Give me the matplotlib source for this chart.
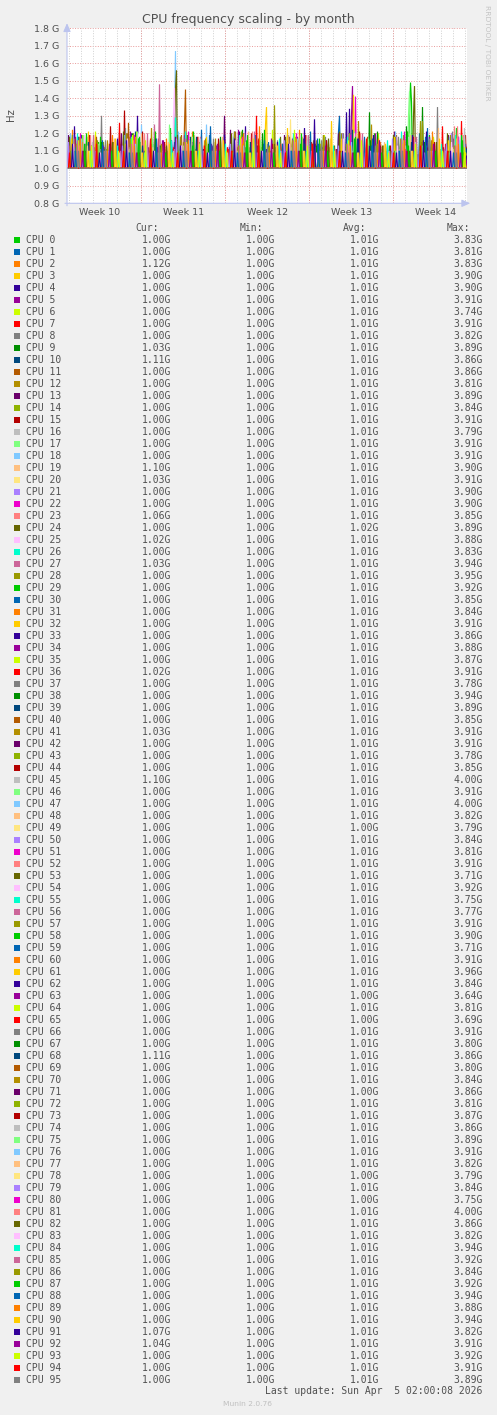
import numpy as np
import matplotlib
matplotlib.use("Agg")
import matplotlib.pyplot as plt
import matplotlib.dates as mdates
from matplotlib.patches import Rectangle
from datetime import datetime, timedelta

W, H = 497, 1415

# ---------------- data ----------------
TITLE = "CPU frequency scaling - by month"
Y_LABEL = "Hz"
LAST_UPDATE = datetime(2026, 4, 5, 2, 0, 8)
N_SAMPLES = 400          # consolidated samples shown on the month graph
STEP_HOURS = 2
BASE_MHZ = 1000          # every CPU rests at its minimum (1.00G) between spikes

y_ticks_ghz = [0.8, 0.9, 1.0, 1.1, 1.2, 1.3, 1.4, 1.5, 1.6, 1.7, 1.8]
y_tick_labels = ["0.8 G", "0.9 G", "1.0 G", "1.1 G", "1.2 G", "1.3 G",
                 "1.4 G", "1.5 G", "1.6 G", "1.7 G", "1.8 G"]
week_labels = ["Week 10", "Week 11", "Week 12", "Week 13", "Week 14"]

cpu_names = ["CPU %d" % i for i in range(96)]

cur_ghz = [1.00, 1.00, 1.12, 1.00, 1.00, 1.00, 1.00, 1.00, 1.00, 1.03, 1.11, 1.00,
           1.00, 1.00, 1.00, 1.00, 1.00, 1.00, 1.00, 1.10, 1.03, 1.00, 1.00, 1.06,
           1.00, 1.02, 1.00, 1.03, 1.00, 1.00, 1.00, 1.00, 1.00, 1.00, 1.00, 1.00,
           1.02, 1.00, 1.00, 1.00, 1.00, 1.03, 1.00, 1.00, 1.00, 1.10, 1.00, 1.00,
           1.00, 1.00, 1.00, 1.00, 1.00, 1.00, 1.00, 1.00, 1.00, 1.00, 1.00, 1.00,
           1.00, 1.00, 1.00, 1.00, 1.00, 1.00, 1.00, 1.00, 1.11, 1.00, 1.00, 1.00,
           1.00, 1.00, 1.00, 1.00, 1.00, 1.00, 1.00, 1.00, 1.00, 1.00, 1.00, 1.00,
           1.00, 1.00, 1.00, 1.00, 1.00, 1.00, 1.00, 1.07, 1.04, 1.00, 1.00, 1.00]
min_ghz = [1.00] * 96
avg_ghz = [1.01, 1.01, 1.01, 1.01, 1.01, 1.01, 1.01, 1.01, 1.01, 1.01, 1.01, 1.01,
           1.01, 1.01, 1.01, 1.01, 1.01, 1.01, 1.01, 1.01, 1.01, 1.01, 1.01, 1.01,
           1.02, 1.01, 1.01, 1.01, 1.01, 1.01, 1.01, 1.01, 1.01, 1.01, 1.01, 1.01,
           1.01, 1.01, 1.01, 1.01, 1.01, 1.01, 1.01, 1.01, 1.01, 1.01, 1.01, 1.01,
           1.01, 1.00, 1.01, 1.01, 1.01, 1.01, 1.01, 1.01, 1.01, 1.01, 1.01, 1.01,
           1.01, 1.01, 1.01, 1.00, 1.01, 1.00, 1.01, 1.01, 1.01, 1.01, 1.01, 1.00,
           1.01, 1.01, 1.01, 1.01, 1.01, 1.01, 1.00, 1.01, 1.00, 1.01, 1.01, 1.01,
           1.01, 1.01, 1.01, 1.01, 1.01, 1.01, 1.01, 1.01, 1.01, 1.01, 1.01, 1.01]
max_ghz = [3.83, 3.81, 3.83, 3.90, 3.90, 3.91, 3.74, 3.91, 3.82, 3.89, 3.86, 3.86,
           3.81, 3.89, 3.84, 3.91, 3.79, 3.91, 3.91, 3.90, 3.91, 3.90, 3.90, 3.85,
           3.89, 3.88, 3.83, 3.94, 3.95, 3.92, 3.85, 3.84, 3.91, 3.86, 3.88, 3.87,
           3.91, 3.78, 3.94, 3.89, 3.85, 3.91, 3.91, 3.78, 3.85, 4.00, 3.91, 4.00,
           3.82, 3.79, 3.84, 3.81, 3.91, 3.71, 3.92, 3.75, 3.77, 3.91, 3.90, 3.71,
           3.91, 3.96, 3.84, 3.64, 3.81, 3.69, 3.91, 3.80, 3.86, 3.80, 3.84, 3.86,
           3.81, 3.87, 3.86, 3.89, 3.91, 3.82, 3.79, 3.84, 3.75, 4.00, 3.86, 3.82,
           3.94, 3.92, 3.84, 3.92, 3.94, 3.88, 3.94, 3.82, 3.91, 3.92, 3.91, 3.89]

# spikes per CPU: (sample index, MHz)
spikes = [
    [(4,1090),(31,1150),(58,1120),(77,1060),(103,1230),(131,1100),(160,1080),(186,1140),(214,1070),(241,1190),(266,1110),(298,1060),(322,1130),(342,1300),(343,1490),(344,1380),(371,1120),(392,1080)],
    [(12,1110),(39,1080),(66,1160),(92,1100),(119,1070),(145,1130),(173,1090),(201,1150),(228,1060),(255,1120),(271,1210),(272,1300),(303,1090),(331,1140),(360,1230),(384,1100)],
    [(5,1220),(26,1100),(53,1140),(81,1070),(108,1120),(137,1160),(164,1090),(192,1240),(219,1110),(247,1080),(276,1150),(309,1100),(337,1070),(366,1170),(389,1120),(399,1120)],
    [(9,1130),(35,1070),(62,1180),(89,1100),(116,1150),(142,1080),(170,1120),(198,1250),(199,1350),(226,1090),(253,1140),(280,1100),(312,1160),(339,1080),(368,1110),(395,1060)],
    [(7,1240),(33,1110),(70,1300),(97,1090),(124,1150),(150,1070),(178,1240),(205,1120),(232,1080),(259,1160),(282,1340),(306,1100),(333,1130),(358,1090),(386,1170)],
    [(15,1080),(42,1140),(68,1100),(95,1160),(122,1070),(149,1130),(176,1110),(203,1090),(230,1180),(257,1100),(284,1300),(285,1470),(315,1120),(342,1080),(369,1150),(396,1100)],
    [(2,1100),(28,1210),(55,1090),(83,1130),(110,1070),(138,1150),(165,1100),(193,1080),(221,1140),(248,1110),(275,1090),(300,1160),(328,1070),(355,1120),(382,1140)],
    [(11,1060),(37,1120),(64,1090),(91,1170),(118,1100),(146,1080),(174,1130),(189,1300),(217,1090),(244,1150),(270,1070),(297,1120),(324,1100),(351,1080),(378,1140),(394,1270)],
    [(34,1300),(50,1100),(76,1080),(104,1140),(130,1090),(157,1120),(183,1070),(210,1160),(237,1100),(264,1080),(291,1130),(319,1090),(346,1150),(373,1110),(398,1080)],
    [(19,1120),(45,1080),(73,1150),(100,1100),(127,1070),(153,1180),(181,1090),(208,1120),(235,1060),(261,1140),(289,1100),(302,1320),(329,1090),(355,1350),(380,1110),(399,1030)],
    [(23,1090),(48,1160),(75,1070),(101,1120),(128,1100),(155,1140),(182,1080),(209,1110),(236,1170),(263,1090),(290,1130),(318,1080),(345,1120),(372,1100),(399,1110)],
    [(16,1100),(61,1260),(86,1120),(117,1250),(118,1450),(143,1090),(171,1130),(197,1080),(225,1150),(252,1100),(278,1070),(305,1140),(332,1090),(359,1110),(387,1080)],
    [(3,1140),(30,1080),(56,1120),(84,1230),(111,1090),(139,1150),(166,1070),(194,1120),(222,1100),(249,1160),(277,1090),(304,1250),(330,1080),(357,1130),(385,1100)],
    [(20,1110),(47,1070),(72,1140),(99,1090),(126,1120),(157,1300),(185,1100),(212,1080),(240,1130),(268,1090),(294,1150),(321,1100),(348,1070),(376,1120)],
    [(8,1090),(36,1150),(63,1080),(90,1120),(115,1100),(144,1070),(172,1160),(199,1090),(227,1110),(254,1080),(281,1140),(308,1100),(336,1170),(363,1090),(390,1120)],
    [(13,1080),(57,1330),(80,1100),(106,1130),(133,1080),(161,1120),(188,1090),(215,1140),(242,1070),(269,1110),(296,1090),(323,1130),(350,1080),(377,1100),(393,1150)],
    [(6,1100),(32,1130),(59,1090),(87,1150),(113,1080),(141,1120),(168,1100),(196,1070),(224,1140),(250,1090),(279,1120),(307,1080),(334,1110),(361,1150),(388,1090)],
    [(18,1110),(44,1080),(71,1120),(102,1250),(129,1090),(154,1140),(180,1100),(207,1080),(234,1150),(260,1100),(287,1090),(313,1130),(341,1300),(342,1440),(368,1100),(391,1080)],
    [(10,1090),(40,1120),(74,1250),(98,1100),(107,1300),(108,1670),(139,1250),(163,1080),(191,1130),(218,1100),(246,1090),(273,1150),(301,1080),(327,1120),(354,1100),(381,1130)],
    [(1,1120),(27,1090),(54,1150),(82,1100),(109,1080),(136,1130),(162,1100),(190,1140),(216,1080),(243,1120),(272,1090),(299,1150),(326,1100),(353,1250),(379,1110),(399,1100)],
    [(14,1100),(41,1140),(67,1090),(94,1120),(121,1080),(147,1150),(175,1100),(202,1090),(223,1280),(251,1110),(276,1080),(302,1130),(330,1100),(356,1090),(383,1120),(399,1030)],
    [(22,1080),(49,1130),(76,1100),(104,1090),(131,1140),(158,1080),(184,1120),(211,1100),(238,1160),(265,1090),(292,1110),(320,1080),(347,1130),(374,1100),(397,1090)],
    [(17,1090),(43,1120),(69,1080),(96,1140),(123,1100),(151,1080),(177,1130),(204,1090),(231,1110),(258,1150),(288,1410),(311,1090),(338,1120),(365,1080),(392,1130)],
    [(4,1080),(29,1130),(57,1100),(85,1150),(112,1090),(140,1110),(167,1080),(195,1120),(223,1100),(250,1140),(278,1090),(305,1110),(333,1080),(360,1120),(387,1240),(399,1060)],
    [(21,1110),(46,1150),(79,1100),(108,1450),(109,1560),(134,1120),(159,1090),(187,1140),(213,1180),(239,1100),(267,1130),(295,1160),(323,1100),(346,1300),(347,1470),(375,1120)],
    [(9,1100),(35,1080),(62,1120),(89,1090),(106,1300),(107,1460),(135,1100),(161,1130),(189,1090),(217,1110),(244,1080),(271,1140),(298,1100),(325,1090),(352,1130),(378,1100),(399,1020)],
    [(3,1090),(30,1120),(58,1080),(86,1140),(108,1290),(132,1100),(160,1080),(186,1120),(214,1090),(240,1130),(268,1080),(293,1110),(321,1100),(349,1140),(376,1090)],
    [(12,1100),(38,1080),(65,1130),(87,1250),(92,1480),(119,1100),(147,1090),(173,1120),(200,1080),(228,1110),(256,1090),(283,1140),(310,1100),(337,1080),(364,1120),(399,1030)],
    [(24,1090),(51,1120),(78,1080),(105,1110),(132,1150),(158,1090),(185,1100),(207,1360),(233,1090),(262,1120),(288,1080),(316,1130),(343,1100),(370,1090),(396,1110)],
    [(6,1120),(33,1180),(60,1100),(88,1210),(114,1090),(142,1160),(169,1080),(197,1220),(224,1100),(252,1170),(279,1130),(307,1200),(334,1080),(362,1190),(389,1230)],
    [(2,1180),(27,1120),(52,1200),(80,1090),(107,1150),(134,1220),(162,1120),(188,1190),(215,1140),(243,1210),(270,1110),(297,1180),(326,1120),(352,1200),(379,1140)],
    [(18,1130),(45,1190),(72,1110),(99,1170),(125,1210),(152,1120),(179,1180),(206,1140),(232,1220),(260,1120),(287,1180),(313,1150),(340,1210),(367,1090),(394,1130)],
    [(21,1210),(28,1190),(55,1100),(82,1080),(110,1130),(137,1090),(164,1110),(191,1080),(219,1150),(246,1100),(274,1090),(286,1420),(314,1100),(341,1080),(369,1120),(395,1090)],
    [(11,1180),(38,1090),(64,1200),(92,1100),(118,1170),(145,1120),(172,1210),(199,1110),(226,1180),(254,1130),(279,1320),(306,1190),(333,1090),(359,1210),(385,1080)],
    [(8,1180),(36,1130),(63,1210),(90,1110),(117,1190),(144,1140),(171,1220),(198,1080),(225,1170),(252,1100),(280,1150),(308,1200),(335,1120),(362,1180),(390,1080)],
    [(15,1190),(42,1110),(69,1210),(96,1130),(124,1180),(151,1090),(178,1150),(205,1220),(229,1080),(257,1190),(284,1090),(311,1200),(338,1080),(366,1180),(393,1100)],
    [(25,1100),(52,1260),(79,1090),(106,1120),(134,1080),(161,1110),(187,1090),(213,1140),(241,1100),(267,1080),(294,1120),(321,1090),(348,1130),(375,1240),(399,1020)],
    [(5,1190),(31,1110),(58,1230),(85,1080),(113,1180),(139,1090),(167,1210),(194,1080),(221,1170),(249,1090),(276,1200),(303,1080),(331,1180),(358,1090),(385,1210)],
    [(10,1180),(37,1110),(65,1200),(93,1130),(120,1190),(148,1080),(175,1220),(202,1090),(229,1140),(256,1190),(283,1110),(310,1210),(339,1240),(364,1100),(391,1180)],
    [(14,1190),(41,1080),(68,1210),(95,1090),(123,1180),(150,1080),(176,1200),(203,1090),(230,1170),(258,1080),(285,1220),(312,1090),(340,1190),(367,1080),(394,1170)],
    [(7,1170),(34,1120),(60,1200),(87,1110),(114,1190),(141,1130),(168,1210),(195,1110),(222,1180),(248,1140),(275,1200),(302,1110),(329,1190),(356,1120),(384,1200)],
    [(19,1110),(46,1090),(73,1130),(100,1080),(128,1110),(155,1090),(182,1120),(209,1080),(236,1100),(263,1090),(291,1270),(317,1090),(344,1110),(371,1080),(399,1030)],
    [(1,1190),(28,1100),(54,1200),(81,1120),(108,1180),(136,1110),(163,1220),(190,1130),(217,1190),(245,1090),(271,1200),(299,1080),(327,1210),(354,1090),(381,1190)],
    [(12,1180),(39,1110),(66,1200),(94,1120),(121,1190),(148,1100),(174,1210),(201,1120),(228,1180),(255,1110),(282,1200),(309,1120),(336,1190),(363,1110),(390,1200)],
    [(22,1190),(49,1090),(75,1210),(103,1080),(130,1180),(157,1090),(184,1200),(211,1080),(238,1190),(264,1090),(292,1210),(319,1080),(346,1180),(373,1090),(398,1190)],
    [(9,1100),(36,1080),(62,1110),(89,1090),(116,1130),(143,1080),(170,1100),(197,1090),(224,1120),(251,1080),(278,1100),(305,1090),(332,1110),(359,1080),(386,1110),(399,1100)],
    [(16,1190),(43,1110),(70,1210),(97,1120),(125,1180),(152,1100),(179,1200),(206,1110),(233,1190),(260,1120),(287,1210),(314,1100),(342,1200),(368,1090),(395,1180)],
    [(3,1200),(30,1090),(57,1190),(84,1080),(111,1210),(138,1090),(166,1180),(193,1080),(220,1200),(247,1090),(274,1190),(301,1080),(328,1210),(355,1090),(382,1180)],
    [(20,1180),(47,1080),(74,1200),(101,1090),(127,1190),(154,1080),(181,1210),(208,1090),(235,1180),(262,1080),(289,1200),(316,1090),(343,1190),(370,1080),(397,1170)],
    [(40,1080),(95,1100),(150,1090),(205,1110),(260,1080),(315,1100),(370,1090)],
    [(6,1190),(33,1110),(59,1200),(86,1120),(113,1180),(140,1100),(167,1210),(194,1110),(221,1190),(248,1120),(275,1200),(302,1100),(329,1180),(357,1110),(384,1200)],
    [(13,1200),(40,1080),(67,1190),(94,1090),(121,1210),(148,1080),(175,1180),(202,1090),(229,1200),(256,1080),(283,1190),(310,1090),(337,1210),(364,1080),(391,1180)],
    [(23,1190),(50,1110),(77,1200),(104,1120),(131,1180),(158,1100),(185,1210),(212,1110),(239,1190),(266,1120),(293,1200),(320,1100),(347,1180),(374,1110),(396,1190)],
    [(2,1180),(29,1080),(56,1210),(83,1090),(110,1190),(137,1080),(164,1200),(191,1090),(218,1180),(245,1080),(272,1210),(299,1090),(326,1190),(353,1080),(380,1200)],
    [(17,1190),(44,1110),(71,1200),(98,1100),(125,1180),(152,1120),(179,1210),(206,1100),(233,1190),(260,1110),(287,1200),(314,1100),(341,1180),(368,1120),(393,1190)],
    [(10,1200),(37,1090),(64,1180),(91,1080),(118,1210),(145,1090),(172,1190),(199,1080),(226,1200),(253,1090),(280,1180),(307,1080),(334,1210),(361,1090),(388,1190)],
    [(26,1190),(53,1100),(80,1200),(107,1110),(133,1180),(160,1120),(187,1210),(214,1100),(241,1190),(268,1110),(295,1200),(322,1100),(349,1180),(377,1110)],
    [(5,1190),(32,1090),(59,1200),(86,1080),(113,1180),(140,1090),(167,1210),(193,1080),(220,1190),(247,1090),(274,1200),(301,1080),(328,1180),(355,1270),(383,1190)],
    [(19,1200),(45,1110),(72,1180),(99,1100),(126,1210),(153,1120),(180,1190),(207,1100),(234,1200),(261,1110),(288,1180),(315,1100),(340,1210),(367,1110),(394,1190)],
    [(8,1120),(35,1160),(61,1090),(88,1130),(115,1100),(142,1190),(169,1090),(196,1140),(223,1100),(250,1170),(277,1090),(304,1130),(331,1100),(358,1180),(386,1090)],
    [(15,1150),(41,1100),(68,1180),(95,1090),(122,1140),(149,1110),(176,1200),(203,1100),(230,1160),(257,1090),(284,1130),(311,1170),(338,1100),(365,1210),(392,1090)],
    [(4,1170),(31,1100),(58,1140),(85,1120),(112,1090),(139,1180),(166,1100),(193,1150),(220,1230),(247,1100),(274,1170),(301,1090),(327,1180),(354,1100),(381,1160)],
    [(24,1130),(50,1170),(77,1100),(104,1160),(130,1090),(157,1190),(183,1100),(210,1150),(237,1230),(264,1100),(291,1170),(318,1120),(345,1190),(372,1100),(398,1140)],
    [(30,1100),(90,1120),(150,1080),(210,1110),(265,1090),(320,1130),(375,1100)],
    [(11,1160),(38,1100),(65,1190),(92,1110),(119,1150),(146,1090),(173,1180),(200,1100),(227,1220),(254,1090),(281,1160),(308,1100),(335,1140),(362,1090),(389,1170)],
    [(44,1100),(100,1090),(160,1120),(220,1080),(280,1100),(340,1090)],
    [(18,1140),(45,1100),(71,1170),(98,1090),(125,1150),(151,1100),(178,1120),(205,1160),(232,1090),(258,1180),(285,1100),(312,1140),(339,1090),(370,1350),(396,1120)],
    [(7,1100),(34,1150),(61,1090),(88,1170),(114,1100),(141,1140),(168,1090),(195,1200),(222,1100),(249,1130),(276,1090),(303,1160),(330,1100),(357,1150),(384,1090)],
    [(21,1150),(48,1100),(75,1130),(102,1090),(129,1180),(156,1100),(183,1150),(210,1090),(237,1140),(264,1100),(290,1170),(317,1090),(344,1150),(371,1100),(399,1110)],
    [(2,1130),(29,1180),(56,1100),(83,1160),(110,1090),(138,1150),(165,1100),(191,1170),(218,1090),(245,1140),(273,1100),(300,1180),(327,1090),(354,1150),(381,1100)],
    [(13,1100),(40,1160),(67,1090),(94,1140),(121,1100),(148,1170),(175,1090),(202,1130),(229,1100),(256,1190),(283,1090),(310,1140),(337,1100),(364,1160),(391,1090)],
    [(50,1120),(115,1090),(175,1110),(240,1100),(300,1090),(360,1120)],
    [(9,1140),(36,1100),(63,1170),(90,1090),(117,1150),(144,1100),(171,1130),(198,1090),(225,1160),(252,1100),(279,1140),(306,1090),(333,1170),(360,1100),(387,1130)],
    [(16,1100),(43,1240),(70,1090),(97,1150),(124,1100),(151,1170),(178,1090),(205,1140),(232,1100),(259,1160),(286,1090),(313,1130),(340,1100),(367,1150),(395,1090)],
    [(25,1150),(52,1090),(79,1130),(106,1100),(133,1170),(160,1090),(186,1140),(213,1100),(240,1160),(267,1090),(294,1130),(321,1100),(348,1150),(375,1090),(397,1230)],
    [(4,1100),(31,1140),(58,1090),(85,1170),(112,1100),(139,1130),(166,1090),(193,1160),(220,1100),(247,1140),(274,1090),(301,1170),(328,1100),(355,1130),(382,1090)],
    [(14,1170),(41,1100),(68,1140),(95,1090),(122,1160),(149,1100),(176,1130),(203,1090),(230,1170),(257,1100),(284,1150),(311,1090),(338,1130),(365,1100),(392,1160)],
    [(20,1130),(47,1170),(74,1090),(101,1150),(128,1100),(155,1180),(182,1090),(209,1140),(236,1100),(263,1170),(290,1090),(317,1150),(344,1100),(371,1230),(398,1090)],
    [(22,1100),(85,1120),(145,1090),(205,1110),(262,1090),(325,1100),(385,1120)],
    [(1,1150),(28,1100),(55,1130),(82,1090),(109,1170),(136,1100),(163,1140),(190,1090),(217,1160),(244,1100),(271,1130),(298,1090),(325,1170),(352,1100),(379,1140)],
    [(35,1110),(98,1090),(158,1120),(218,1100),(278,1090),(338,1110)],
    [(12,1130),(39,1100),(66,1160),(93,1090),(120,1140),(147,1100),(174,1170),(201,1090),(228,1150),(255,1100),(282,1130),(309,1090),(336,1160),(363,1100),(390,1240)],
    [(18,1100),(45,1150),(72,1090),(99,1130),(126,1100),(153,1160),(180,1090),(207,1140),(234,1100),(261,1170),(288,1090),(315,1130),(342,1100),(369,1150),(396,1090)],
    [(6,1140),(33,1090),(60,1170),(87,1100),(114,1130),(141,1090),(168,1160),(195,1100),(222,1140),(249,1090),(276,1170),(303,1100),(330,1130),(357,1090),(384,1150)],
    [(23,1100),(50,1130),(77,1090),(104,1160),(131,1100),(158,1140),(185,1090),(212,1170),(239,1100),(266,1130),(293,1090),(320,1160),(347,1100),(374,1140)],
    [(10,1160),(37,1100),(64,1140),(91,1090),(118,1170),(145,1100),(172,1130),(199,1090),(226,1160),(253,1100),(280,1140),(307,1090),(334,1170),(361,1100),(388,1130)],
    [(3,1100),(30,1160),(57,1090),(84,1140),(111,1100),(138,1170),(165,1090),(192,1130),(219,1100),(246,1160),(273,1090),(300,1140),(327,1100),(353,1270),(380,1090)],
    [(17,1140),(44,1100),(71,1170),(98,1090),(125,1130),(152,1100),(179,1160),(206,1090),(233,1140),(260,1100),(287,1170),(314,1090),(341,1130),(368,1100),(395,1160)],
    [(8,1100),(35,1140),(62,1090),(89,1170),(116,1100),(143,1240),(170,1090),(197,1160),(224,1100),(251,1140),(278,1090),(305,1170),(332,1100),(359,1130),(386,1090)],
    [(13,1170),(40,1100),(67,1130),(94,1090),(121,1160),(148,1100),(175,1140),(202,1090),(229,1170),(256,1100),(283,1130),(310,1090),(337,1160),(364,1100),(391,1140)],
    [(21,1100),(48,1170),(75,1090),(102,1140),(129,1100),(156,1160),(183,1090),(210,1130),(237,1100),(264,1270),(291,1090),(318,1140),(345,1100),(372,1170),(398,1090)],
    [(5,1140),(32,1090),(59,1160),(86,1100),(113,1130),(140,1090),(167,1170),(194,1100),(221,1140),(247,1280),(275,1100),(302,1130),(329,1090),(356,1160),(383,1100),(399,1070)],
    [(15,1100),(42,1130),(69,1090),(96,1160),(123,1100),(150,1140),(177,1090),(204,1170),(231,1100),(258,1130),(285,1090),(312,1160),(339,1100),(366,1140),(393,1090),(399,1040)],
    [(24,1130),(51,1100),(78,1160),(105,1090),(132,1140),(159,1100),(186,1170),(213,1090),(240,1130),(267,1100),(294,1160),(321,1090),(348,1140),(375,1100),(397,1120)],
    [(2,1090),(29,1140),(56,1100),(83,1170),(110,1090),(137,1130),(164,1100),(191,1160),(218,1090),(245,1140),(272,1100),(299,1170),(326,1090),(353,1130),(380,1100)],
    [(11,1100),(38,1160),(65,1090),(92,1130),(119,1100),(146,1170),(173,1090),(200,1140),(227,1100),(254,1160),(281,1090),(308,1130),(335,1100),(362,1170),(389,1090)],
]

# munin default colour cycle
palette = ["#00CC00", "#0066B3", "#FF8000", "#FFCC00", "#330099", "#990099", "#CCFF00",
           "#FF0000", "#808080", "#008F00", "#00487D", "#B35A00", "#B38F00", "#6B006B",
           "#8FB300", "#B30000", "#BEBEBE", "#80FF80", "#80C9FF", "#FFC080", "#FFE680",
           "#AA80FF", "#EE00CC", "#FF8080", "#666600", "#FFBFFF", "#00FFCC", "#CC6699",
           "#999900"]

# ---------------- styling ----------------
BG = "#F0F0F0"
TXT = "#505050"
SANS = "DejaVu Sans"
MONO = "DejaVu Sans Mono"


def fx(px):
    return px / W


def fy(py):
    return 1 - py / H


fig = plt.figure(figsize=(W / 100, H / 100), dpi=100, facecolor=BG)

# plot area: x 67..467 px, y 28.3 (1.8G) .. 203.3 (0.8G)
ax = fig.add_axes([fx(67), fy(203.3), 400 / W, 175 / H])
ax.set_facecolor("white")

times = [LAST_UPDATE - timedelta(hours=STEP_HOURS * (N_SAMPLES - 1 - i)) for i in range(N_SAMPLES)]
tnum = mdates.date2num(times)
half = STEP_HOURS / 48.0
ax.set_xlim(tnum[0] - half, tnum[-1] + half)
ax.set_ylim(y_ticks_ghz[0] * 1e9, y_ticks_ghz[-1] * 1e9)

for i, sp in enumerate(spikes):
    vals = np.full(N_SAMPLES, float(BASE_MHZ))
    for idx, mhz in sp:
        vals[idx] = mhz
    ax.plot(tnum, vals * 1e6, color=palette[i % len(palette)], lw=0.85,
            solid_joinstyle="miter", zorder=3)

# grid
for g in y_ticks_ghz:
    ax.axhline(g * 1e9, color="#E89A9A", lw=0.7, ls=(0, (1, 1.6)), zorder=1)
xmin, xmax = ax.get_xlim()
day_loc = mdates.DayLocator()
for d in day_loc.tick_values(mdates.num2date(xmin), mdates.num2date(xmax)):
    if xmin < d < xmax:
        ax.axvline(d, color="#CFCFCF", lw=0.7, ls=(0, (1, 1.6)), zorder=1)
wk_loc = mdates.WeekdayLocator(byweekday=mdates.MO)
for d in wk_loc.tick_values(mdates.num2date(xmin), mdates.num2date(xmax)):
    if xmin < d < xmax:
        ax.axvline(d, color="#E89A9A", lw=0.7, ls=(0, (1, 1.6)), zorder=1.5)

# ticks
ax.set_yticks([g * 1e9 for g in y_ticks_ghz])
ax.set_yticklabels(y_tick_labels)
mid_loc = mdates.RRuleLocator(mdates.rrulewrapper(mdates.WEEKLY, byweekday=mdates.TH, byhour=12))
mids = [m for m in mid_loc.tick_values(mdates.num2date(xmin), mdates.num2date(xmax)) if xmin < m < xmax]
ax.set_xticks(mids)
ax.set_xticklabels(week_labels[:len(mids)])
ax.tick_params(axis="both", length=0, labelsize=6.8, labelcolor=TXT)
ax.tick_params(axis="y", pad=5.4)
ax.tick_params(axis="x", pad=3.5)
for lab in ax.get_xticklabels() + ax.get_yticklabels():
    lab.set_family(SANS)
for s in ax.spines.values():
    s.set_visible(False)

# axis lines with arrows
AX_C = "#BCC4EE"
ax.annotate("", xy=(0, 1.045), xytext=(0, -0.03), xycoords="axes fraction",
            arrowprops=dict(arrowstyle="-|>,head_length=0.5,head_width=0.22", color=AX_C, lw=0.8),
            annotation_clip=False)
ax.annotate("", xy=(1.015, 0), xytext=(-0.012, 0), xycoords="axes fraction",
            arrowprops=dict(arrowstyle="-|>,head_length=0.5,head_width=0.22", color=AX_C, lw=0.8),
            annotation_clip=False)

# titles
fig.text(fx(248), fy(19.3), TITLE, ha="center", va="center", fontsize=9, color=TXT, family=SANS)
fig.text(fx(11), fy(115), Y_LABEL, ha="center", va="center", rotation=90, fontsize=7.3,
         color=TXT, family=SANS)
fig.text(fx(487.3), fy(53), "RRDTOOL / TOBI OETIKER", ha="center", va="center", rotation=270,
         fontsize=5.4, color="#C4C4C4", family=SANS)

# legend
ROW0 = 239.7
ROWH = 12.0
BL = 3.4
col_right = [171.3, 275.0, 379.0, 482.7]
head_right = [159.3, 262.7, 366.7, 470.0]
for hdr, xr in zip(["Cur:", "Min:", "Avg:", "Max:"], head_right):
    fig.text(fx(xr), fy(ROW0 - ROWH + BL), hdr, ha="right", va="baseline", fontsize=7,
             color=TXT, family=MONO)
for i, name in enumerate(cpu_names):
    yc = ROW0 + ROWH * i
    fig.add_artist(Rectangle((fx(14), fy(yc + 3)), 6 / W, 6 / H, transform=fig.transFigure,
                             facecolor=palette[i % len(palette)], edgecolor="none"))
    fig.text(fx(26.3), fy(yc + BL), name, ha="left", va="baseline", fontsize=7,
             color=TXT, family=MONO)
    for v, xr in zip([cur_ghz[i], min_ghz[i], avg_ghz[i], max_ghz[i]], col_right):
        fig.text(fx(xr), fy(yc + BL), "%.2fG" % v, ha="right", va="baseline", fontsize=7,
                 color=TXT, family=MONO)

stamp = "Last update: " + LAST_UPDATE.strftime("%a %b ") + ("%2d" % LAST_UPDATE.day) + \
        LAST_UPDATE.strftime(" %H:%M:%S %Y")
fig.text(fx(482.7), fy(1391 + BL), stamp, ha="right", va="baseline", fontsize=7,
         color=TXT, family=MONO)
fig.text(fx(247.7), fy(1404.3), "Munin 2.0.76", ha="center", va="center", fontsize=5.4,
         color="#C0C0C0", family=SANS)

fig.savefig("out.png", dpi=100, facecolor=BG)
